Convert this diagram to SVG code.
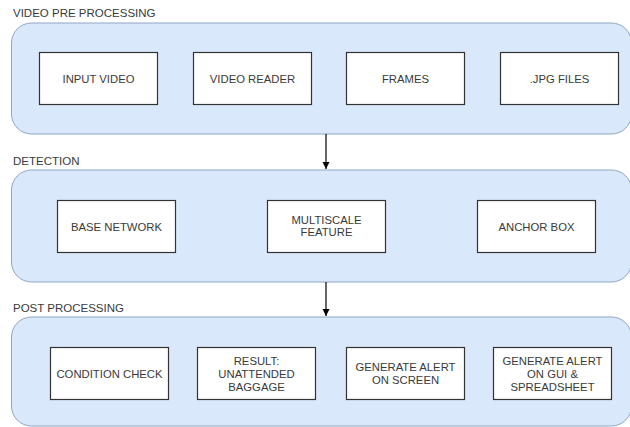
<svg xmlns="http://www.w3.org/2000/svg" width="630" height="427" viewBox="0 0 630 427">
<defs>
<style>
.bg{fill:#ffffff}
.cont{fill:#dae8fc;stroke:#8fa6c4;stroke-width:1}
.box{fill:#ffffff;stroke:#333333;stroke-width:1.2}
.t{font-family:"Liberation Sans",Arial,sans-serif;font-size:11.3px;fill:#3a3a3a;text-anchor:middle}
.lbl{font-family:"Liberation Sans",Arial,sans-serif;font-size:11.5px;fill:#3a3a3a}
.edge{stroke:#000000;stroke-width:1.2;fill:none}
</style>
<marker id="arr" markerWidth="8" markerHeight="8" refX="7" refY="4" orient="auto" markerUnits="userSpaceOnUse">
<path d="M0,0.5 L7,4 L0,7.5 Z" fill="#000000"/>
</marker>
</defs>
<rect class="bg" x="0" y="0" width="630" height="427"/>

<g id="group-preprocessing">
<text class="lbl" x="13" y="17">VIDEO PRE PROCESSING</text>
<rect class="cont" x="11.5" y="23" width="620" height="111" rx="20" ry="20"/>
</g>
<g id="group-detection">
<text class="lbl" x="13" y="165">DETECTION</text>
<rect class="cont" x="11.5" y="170" width="620" height="112" rx="20" ry="20"/>
</g>
<g id="group-postprocessing">
<text class="lbl" x="13" y="312">POST PROCESSING</text>
<rect class="cont" x="11.5" y="317" width="620" height="109" rx="20" ry="20"/>
</g>

<g id="connectors">
<line class="edge" x1="326" y1="134" x2="326" y2="169" marker-end="url(#arr)"/>
<line class="edge" x1="326" y1="282" x2="326" y2="316" marker-end="url(#arr)"/>
</g>

<g id="input-video">
<rect class="box" x="39.5" y="52.5" width="118" height="52"/>
<text class="t" x="98.5" y="82.5">INPUT VIDEO</text>
</g>
<g id="video-reader">
<rect class="box" x="193.5" y="52.5" width="118" height="52"/>
<text class="t" x="252.5" y="82.5">VIDEO READER</text>
</g>
<g id="frames">
<rect class="box" x="346.5" y="52.5" width="118" height="52"/>
<text class="t" x="405.5" y="82.5">FRAMES</text>
</g>
<g id="jpg-files">
<rect class="box" x="500.5" y="52.5" width="118" height="52"/>
<text class="t" x="559.5" y="82.5">.JPG FILES</text>
</g>

<g id="base-network">
<rect class="box" x="57.5" y="200.5" width="118" height="52"/>
<text class="t" x="116.5" y="230.5">BASE NETWORK</text>
</g>
<g id="multiscale-feature">
<rect class="box" x="267.5" y="200.5" width="118" height="52"/>
<text class="t" x="326.5" y="224">MULTISCALE</text>
<text class="t" x="326.5" y="236">FEATURE</text>
</g>
<g id="anchor-box">
<rect class="box" x="477.5" y="200.5" width="118" height="52"/>
<text class="t" x="536.5" y="230.5">ANCHOR BOX</text>
</g>

<g id="condition-check">
<rect class="box" x="50.5" y="347.5" width="118" height="52"/>
<text class="t" x="109.5" y="377.5">CONDITION CHECK</text>
</g>
<g id="result">
<rect class="box" x="197.5" y="347.5" width="118" height="52"/>
<text class="t" x="256.5" y="365">RESULT:</text>
<text class="t" x="256.5" y="378">UNATTENDED</text>
<text class="t" x="256.5" y="391">BAGGAGE</text>
</g>
<g id="alert-screen">
<rect class="box" x="346.5" y="347.5" width="118" height="52"/>
<text class="t" x="405.5" y="371">GENERATE ALERT</text>
<text class="t" x="405.5" y="383.5">ON SCREEN</text>
</g>
<g id="alert-gui">
<rect class="box" x="493.5" y="347.5" width="118" height="52"/>
<text class="t" x="552.5" y="365">GENERATE ALERT</text>
<text class="t" x="552.5" y="378">ON GUI &amp;</text>
<text class="t" x="552.5" y="391">SPREADSHEET</text>
</g>
</svg>
